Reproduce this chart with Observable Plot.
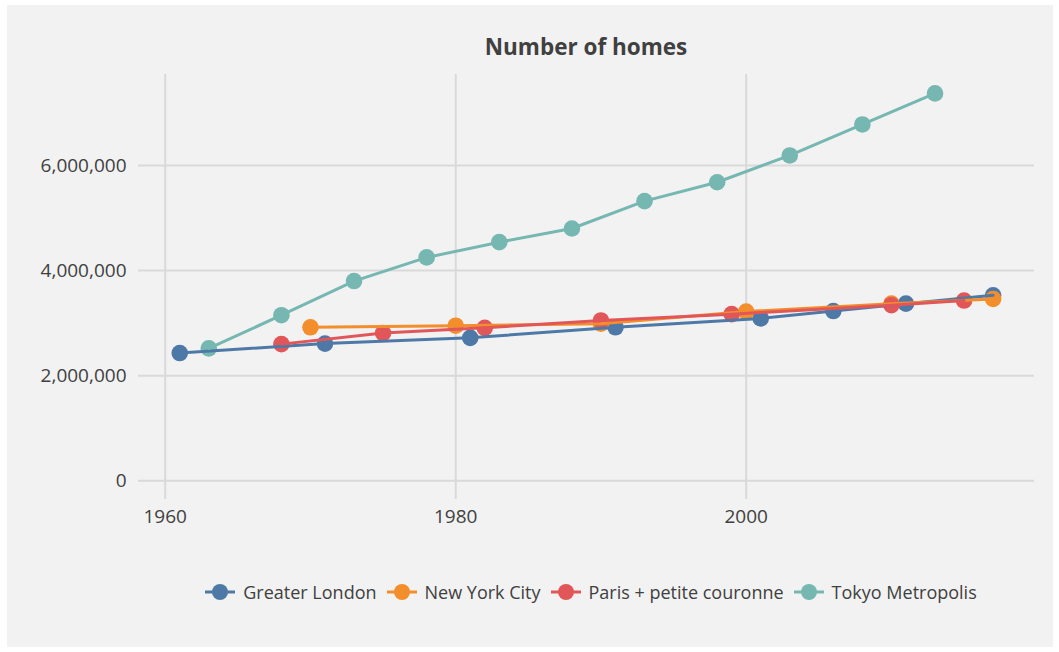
<!DOCTYPE html>
<html>
<head>
<meta charset="utf-8">
<script src="https://cdn.jsdelivr.net/npm/d3@7"></script>
<script src="https://cdn.jsdelivr.net/npm/@observablehq/plot@0.6"></script>
<style>
  html, body { margin: 0; padding: 0; background: #ffffff; }
  #card { position: absolute; left: 7px; top: 5px; width: 1046px; height: 642px; background: #f2f2f2; overflow: hidden; font-family: "Open Sans", "Noto Sans", sans-serif; color: #404040; }
  #title { position: absolute; left: 131px; width: 896px; top: 26px; text-align: center; font-weight: bold; font-size: 22.5px; line-height: 32px; color: #404040; }
  #chart { position: absolute; left: 0; top: 0; }
  #legend { position: absolute; left: 131px; width: 906px; top: 573px; display: flex; justify-content: center; align-items: center; font-size: 18px; line-height: 28px; color: #404040; white-space: nowrap; }
  .item { display: flex; align-items: center; margin: 0 5px; }
  .item svg { margin-right: 8px; }
</style>
</head>
<body>
<div id="card">
  <div id="title">Number of homes</div>
  <div id="chart"></div>
  <div id="legend"></div>
</div>
<script>
// Series names and colours
const seriesNames = ["Greater London", "New York City", "Paris + petite couronne", "Tokyo Metropolis"];
const seriesColors = ["#4e79a7", "#f28e2b", "#e15759", "#76b7b2"];

// Greater London
const londonYears = [1961, 1971, 1981, 1991, 2001, 2006, 2011, 2017];
const londonHomes = [2430000, 2610000, 2720000, 2920000, 3090000, 3230000, 3370000, 3530000];

// New York City
const nycYears = [1970, 1980, 1990, 2000, 2010, 2017];
const nycHomes = [2920000, 2950000, 2990000, 3220000, 3370000, 3460000];

// Paris + petite couronne
const parisYears = [1968, 1975, 1982, 1990, 1999, 2010, 2015];
const parisHomes = [2600000, 2810000, 2910000, 3050000, 3170000, 3340000, 3430000];

// Tokyo Metropolis
const tokyoYears = [1963, 1968, 1973, 1978, 1983, 1988, 1993, 1998, 2003, 2008, 2013];
const tokyoHomes = [2520000, 3150000, 3800000, 4250000, 4540000, 4800000, 5320000, 5680000, 6190000, 6780000, 7370000];

// Ticks
const xTicks = [1960, 1980, 2000];
const yTicks = [0, 2000000, 4000000, 6000000];

const table = [];
[[londonYears, londonHomes], [nycYears, nycHomes], [parisYears, parisHomes], [tokyoYears, tokyoHomes]]
  .forEach(([ys, vs], i) => ys.forEach((yr, j) => table.push({series: seriesNames[i], year: yr, homes: vs[j]})));

const gridColor = "#d9d9d9";
const fmt = d3.format(",");

const chart = Plot.plot({
  width: 1046,
  height: 540,
  marginLeft: 131,
  marginRight: 19,
  marginTop: 69,
  marginBottom: 46,
  style: {background: "transparent", fontFamily: "'Open Sans', 'Noto Sans', sans-serif", fontSize: "19px", color: "#404040"},
  x: {domain: [1958.16, 2019.85], ticks: xTicks, tickFormat: d => String(d), tickSize: 0, tickPadding: 10, label: null},
  y: {domain: [-356000, 7730000], ticks: yTicks, tickFormat: fmt, tickSize: 0, tickPadding: 12, label: null},
  color: {domain: seriesNames, range: seriesColors},
  marks: [
    Plot.ruleY(yTicks, {stroke: gridColor, strokeWidth: 2}),
    Plot.ruleX(xTicks, {stroke: gridColor, strokeWidth: 2}),
    Plot.dot(table, {x: "year", y: "homes", fill: "series", r: 8.3, stroke: "none"}),
    Plot.line(table, {x: "year", y: "homes", z: "series", stroke: "series", strokeWidth: 3}),
    Plot.axisX({ticks: xTicks, tickSize: 0, tickPadding: 10, tickFormat: d => String(d), label: null, fill: "#404040", fontSize: 19}),
    Plot.axisY({ticks: yTicks, tickSize: 0, tickPadding: 12, tickFormat: fmt, label: null, fill: "#404040", fontSize: 19})
  ]
});
document.getElementById("chart").appendChild(chart);

// Legend
const legend = document.getElementById("legend");
seriesNames.forEach((name, i) => {
  const item = document.createElement("div");
  item.className = "item";
  item.innerHTML = `<svg width="30" height="18"><line x1="0" x2="30" y1="9" y2="9" stroke="${seriesColors[i]}" stroke-width="3"/><circle cx="15" cy="9" r="8" fill="${seriesColors[i]}"/></svg><span>${name}</span>`;
  legend.appendChild(item);
});
</script>
</body>
</html>
